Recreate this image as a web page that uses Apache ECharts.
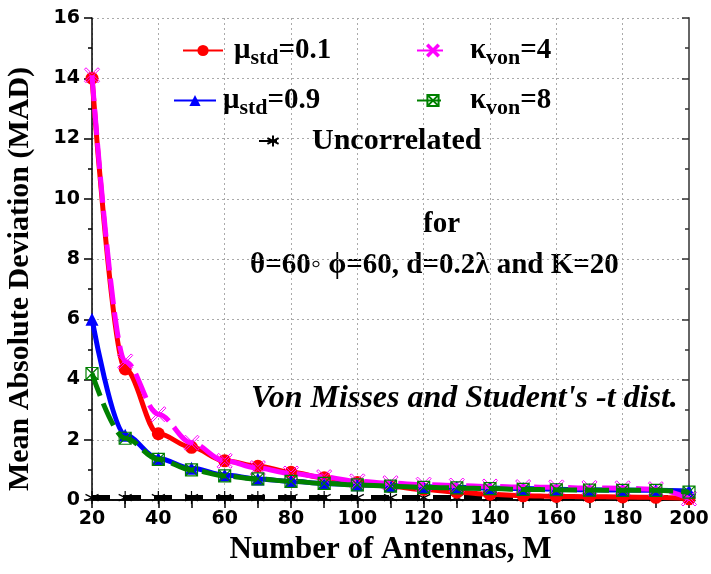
<!DOCTYPE html>
<html>
<head>
<meta charset="utf-8">
<script src="https://cdn.jsdelivr.net/npm/echarts@6/dist/echarts.min.js"></script>
<style>
html,body{margin:0;padding:0;background:#fff;}
#chart{width:711px;height:574px;}
</style>
</head>
<body>
<div id="chart"></div>
<script>
// ---- data ----
const antennas = [20, 30, 40, 50, 60, 70, 80, 90, 100, 110, 120, 130, 140, 150, 160, 170, 180, 190, 200];
const muStd01 = [14.0, 4.35, 2.2, 1.75, 1.3, 1.12, 0.92, 0.74, 0.58, 0.45, 0.35, 0.26, 0.19, 0.14, 0.12, 0.11, 0.1, 0.09, 0.04];
const muStd09 = [6.0, 2.15, 1.38, 1.05, 0.83, 0.7, 0.62, 0.55, 0.51, 0.47, 0.44, 0.42, 0.4, 0.38, 0.36, 0.34, 0.33, 0.32, 0.3];
const kVon4 = [14.1, 4.6, 2.85, 1.9, 1.3, 1.06, 0.88, 0.76, 0.62, 0.56, 0.51, 0.48, 0.45, 0.43, 0.42, 0.4, 0.39, 0.36, 0.05];
const kVon8 = [4.2, 2.05, 1.35, 1.0, 0.8, 0.7, 0.62, 0.55, 0.5, 0.46, 0.42, 0.4, 0.38, 0.35, 0.34, 0.33, 0.32, 0.32, 0.26];
const uncorrelated = [0.08, 0.08, 0.08, 0.08, 0.08, 0.08, 0.08, 0.08, 0.08, 0.08, 0.08, 0.08, 0.08, 0.08, 0.08, 0.08, 0.08, 0.08, 0.08];
const seriesNames = ['μstd=0.1', 'μstd=0.9', 'κvon=4', 'κvon=8', 'Uncorrelated'];
const yTicks = [0, 2, 4, 6, 8, 10, 12, 14, 16];
const xTicks = [20, 40, 60, 80, 100, 120, 140, 160, 180, 200];
const xTitle = 'Number of Antennas, M';
const yTitle = 'Mean Absolute Deviation (MAD)';
const note1 = 'for';
const note2 = 'θ=60◦ ϕ=60, d=0.2λ and K=20';
const note3 = "Von Misses and Student's -t dist.";

const pair = arr => antennas.map((x, i) => [x, arr[i]]);

const SERIF = '"Liberation Serif", "Times New Roman", serif';
const SANS = '"DejaVu Sans", sans-serif';

const xSym = 'path://M0,1 L1,0 L5,4 L9,0 L10,1 L6,5 L10,9 L9,10 L5,6 L1,10 L0,9 L4,5 Z';
const boxSym = 'path://M0,0 L10,0 L10,10 L0,10 Z M0,0 L10,10 M10,0 L0,10';
const starSym = 'path://M5,0 L5,10 M0.7,2.5 L9.3,7.5 M9.3,2.5 L0.7,7.5';

const chart = echarts.init(document.getElementById('chart'), null, {renderer: 'canvas'});

function legendFmt(name) {
  if (name === 'Uncorrelated') return '{sp|}{u|Uncorrelated}';
  const g = name.charAt(0);
  const sub = name.substr(1, 3);
  const rest = name.substr(4);
  return '{sp|}{m|' + g + '}{s|' + sub + '}{m|' + rest + '}';
}
function legendText(gap) {
  return {
    color: '#000',
    rich: {
      sp: {width: gap},
      m: {fontFamily: SERIF, fontWeight: 'bold', fontSize: 29, color: '#000'},
      s: {fontFamily: SERIF, fontWeight: 'bold', fontSize: 22, color: '#000', padding: [15, 0, 0, 0]},
      u: {fontFamily: SERIF, fontWeight: 'bold', fontSize: 30, color: '#000'}
    }
  };
}
function mkLegend(name, left, top, w, gap) {
  return {
    data: [name], left: left, top: top, orient: 'horizontal',
    itemWidth: w, itemHeight: 14, itemGap: 0, padding: 0,
    selectedMode: false, formatter: legendFmt, textStyle: legendText(gap)
  };
}

const option = {
  animation: false,
  backgroundColor: '#fff',
  grid: {left: 92, right: 22, top: 18, bottom: 74, containLabel: false, outerBoundsMode: 'none'},
  legend: [
    mkLegend(seriesNames[0], 182, 36, 40, 6),
    mkLegend(seriesNames[2], 416, 36, 32, 16),
    mkLegend(seriesNames[1], 173, 86, 42, 2),
    mkLegend(seriesNames[3], 416, 86, 32, 16),
    mkLegend(seriesNames[4], 258, 126, 28, 20)
  ],
  xAxis: [{
    type: 'value', min: 20, max: 200, interval: 20, position: 'bottom',
    name: xTitle, nameLocation: 'middle', nameGap: 34,
    nameTextStyle: {fontFamily: SERIF, fontWeight: 'bold', fontSize: 31, color: '#000'},
    axisLine: {show: true, lineStyle: {color: '#000', width: 1.5}},
    axisTick: {show: true, inside: false, length: 8, lineStyle: {color: '#000', width: 1.5}},
    minorTick: {show: true, splitNumber: 2, length: 8, lineStyle: {color: '#000', width: 1.5}},
    axisLabel: {fontFamily: SANS, fontWeight: 'bold', fontSize: 19, color: '#000', margin: 10,
      formatter: v => xTicks.indexOf(v) >= 0 ? String(v) : ''},
    splitLine: {show: true, lineStyle: {color: '#aaaaaa', type: [2, 3], width: 1}}
  }, {
    type: 'value', min: 20, max: 200, interval: 20, position: 'top',
    axisLine: {show: true, lineStyle: {color: '#000', width: 1.5}},
    axisTick: {show: true, inside: true, length: 7, lineStyle: {color: '#000', width: 1.5}},
    minorTick: {show: true, splitNumber: 2, length: 4, lineStyle: {color: '#000', width: 1.5}},
    axisLabel: {show: false}, splitLine: {show: false}
  }],
  yAxis: [{
    type: 'value', min: 0, max: 16, interval: 2, position: 'left',
    name: '{t|' + yTitle + '}{sp|}', nameLocation: 'middle', nameGap: 57,
    nameTextStyle: {color: '#000', rich: {
      t: {fontFamily: SERIF, fontWeight: 'bold', fontSize: 30, color: '#000'},
      sp: {width: 40}
    }},
    axisLine: {show: true, lineStyle: {color: '#000', width: 1.5}},
    axisTick: {show: true, inside: false, length: 8, lineStyle: {color: '#000', width: 1.5}},
    minorTick: {show: true, splitNumber: 2, length: 4, lineStyle: {color: '#000', width: 1.5}},
    axisLabel: {fontFamily: SANS, fontWeight: 'bold', fontSize: 19, color: '#000', margin: 12,
      formatter: v => yTicks.indexOf(v) >= 0 ? String(v) : ''},
    splitLine: {show: true, lineStyle: {color: '#aaaaaa', type: [2, 3], width: 1}}
  }, {
    type: 'value', min: 0, max: 16, interval: 2, position: 'right',
    axisLine: {show: true, lineStyle: {color: '#666', width: 2}},
    axisTick: {show: true, inside: true, length: 7, lineStyle: {color: '#333', width: 1.5}},
    minorTick: {show: true, splitNumber: 2, length: 4, lineStyle: {color: '#333', width: 1.5}},
    axisLabel: {show: false}, splitLine: {show: false}
  }],
  series: [
    {
      name: seriesNames[0], type: 'line', data: pair(muStd01), smooth: 0.35, smoothMonotone: 'x',
      symbol: 'circle', symbolSize: 13, showAllSymbol: true,
      lineStyle: {color: '#ff0000', width: 5},
      itemStyle: {color: '#ff0000'}, z: 2
    },
    {
      name: seriesNames[1], type: 'line', data: pair(muStd09), smooth: 0.35, smoothMonotone: 'x',
      symbol: 'triangle', symbolSize: 13, showAllSymbol: true,
      lineStyle: {color: '#0000ff', width: 5},
      itemStyle: {color: '#0000ff'}, z: 3
    },
    {
      name: seriesNames[2], type: 'line', data: pair(kVon4), smooth: 0.35, smoothMonotone: 'x',
      symbol: xSym, symbolSize: 15, showAllSymbol: true,
      lineStyle: {color: '#ff00ff', width: 5, type: [26, 8]},
      itemStyle: {color: 'rgba(0,0,0,0)', borderColor: '#ff00ff', borderWidth: 1}, z: 4
    },
    {
      name: seriesNames[3], type: 'line', data: pair(kVon8), smooth: 0.35, smoothMonotone: 'x',
      symbol: boxSym, symbolSize: 12, showAllSymbol: true,
      lineStyle: {color: '#008000', width: 5, type: [24, 8]},
      itemStyle: {color: 'rgba(0,0,0,0)', borderColor: '#008000', borderWidth: 1.2}, z: 5
    },
    {
      name: seriesNames[4], type: 'line', data: pair(uncorrelated), smooth: false,
      symbol: starSym, symbolSize: 13, showAllSymbol: true,
      lineStyle: {color: '#000', width: 5, type: [18, 13]},
      itemStyle: {color: 'rgba(0,0,0,0)', borderColor: '#000', borderWidth: 1.2}, z: 1
    }
  ],
  graphic: [
    {type: 'text', left: 423, top: 210, style: {text: note1, font: 'bold 29px ' + SERIF, fill: '#000'}},
    {type: 'text', left: 250, top: 251, style: {text: note2, font: 'bold 29px ' + SERIF, fill: '#000'}},
    {type: 'text', left: 251, top: 383, style: {text: note3, font: 'italic bold 32px ' + SERIF, fill: '#000'}}
  ]
};
chart.setOption(option);
</script>
</body>
</html>
